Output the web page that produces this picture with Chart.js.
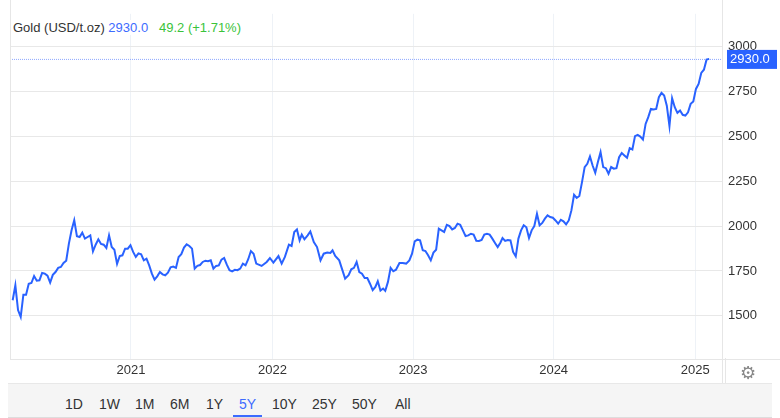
<!DOCTYPE html>
<html><head><meta charset="utf-8">
<script src="https://cdn.jsdelivr.net/npm/chart.js@4/dist/chart.umd.min.js"></script>
<style>
body{margin:0;width:780px;height:418px;background:#fff;font-family:"Liberation Sans",Arial,sans-serif;overflow:hidden;position:relative}
#wrap{position:absolute;left:0;top:0;width:780px;height:383px}
#title{position:absolute;left:13px;top:20px;font-size:13px;color:#333;background:#fff;padding-right:4px}
#bar{position:absolute;left:8px;top:383px;width:764px;height:33px;background:#f5f5f5;border-top:1px solid #e8e8e8;border-bottom:1px solid #ddd}
.b{position:absolute;top:12px;font-size:14px;color:#333}
#gear{position:absolute;left:740px;top:362px;font-size:18px;color:#888;font-family:"DejaVu Sans"}
#sep{position:absolute;left:725px;top:358px;width:1px;height:25px;background:#e6e6e6}
</style></head><body>
<div id="wrap"><canvas id="c" width="780" height="383"></canvas></div>
<div id="title">Gold (USD/t.oz) <span style="color:#3d6bff">2930.0</span>&nbsp;&nbsp;&nbsp;<span style="color:#3ac33a">49.2 (+1.71%)</span></div>
<div id="sep"></div>
<div id="gear">⚙</div>
<div id="bar"></div>
<script>
// weekly prices, segment 1 (weeks 0..91)
const seg1Values=[1587,1670,1532,1494,1618,1618,1679,1683,1722,1696,
1698,1739,1735,1724,1685,1728,1744,1767,1772,1794,
1807,1902,1976,2032,1943,1939,1963,1930,1939,1948,
1859,1896,1926,1900,1896,1878,1948,1883,1868,1789,
1833,1837,1874,1874,1893,1856,1828,1848,1843,1809,
1818,1781,1735,1702,1720,1744,1731,1726,1740,1770,
1774,1767,1828,1843,1880,1898,1889,1874,1763,1778,
1783,1800,1807,1804,1809,1763,1778,1781,1813,1822,
1785,1754,1748,1756,1754,1763,1791,1781,1815,1861,
1846,1791];
// segment 2: explicit week positions
const seg2Weeks=[93.0,94.9,96.1,97.4,99.3,100.5,101.7,103.2,104.2,105.2,106.2,107.2,108.0,109.0,110.2,111.2,112.5,113.7,115.0,116.2,117.5,118.7,119.5,120.5,122.0,123.0,124.2,125.5,126.5,127.5,128.5,129.5,130.5,131.5,132.5,133.5,134.5,135.5,136.4,137.4,138.4,139.2,140.2,141.2,142.2,143.2,144.5,145.7,147.0,148.2,149.2,150.2,151.2,152.2,153.2,154.2,155.2,156.2,157.2,158.2,159.2,160.2,161.2,162.2,163.2,164.2,165.2,166.2,167.2,168.2,169.2,170.2,171.2,172.2,173.2,174.2,175.2,176.2,177.2,178.2,179.2,180.2,181.2,182.2];
const seg2Values=[1778,1800,1822,1796,1833,1791,1828,1896,1889,1967,1981,1920,1952,1926,1948,1970,1911,1883,1809,1846,1852,1850,1865,1833,1809,1763,1707,1726,1759,1767,1800,1744,1735,1711,1711,1679,1643,1661,1693,1641,1652,1639,1689,1767,1748,1757,1794,1794,1791,1809,1846,1915,1924,1920,1865,1861,1837,1809,1852,1868,1985,1976,1967,2007,2000,1981,1989,2013,2007,1976,1944,1948,1957,1952,1918,1917,1922,1952,1957,1952,1930,1906,1883,1907];
// segment 3: weekly from week 183
const seg3Values=[1933,1917,1922,1920,1856,1831,1930,1976,2004,1993,1933,1976,2000,2068,2004,2017,2041,2059,2050,2046,2031,2013,2035,2026,2009,2031,2087,2174,2156,2167,2244,2328,2346,2387,2337,2296,2356,2411,2328,2322,2291,2328,2319,2322,2383,2406,2393,2380,2433,2426,2500,2507,2498,2481,2568,2606,2652,2648,2652,2717,2741,2726,2670,2556,2711,2661,2630,2643,2619,2615,2633,2680,2693,2763,2791,2852,2870,2926,2930];
const yearLabels=['2021','2022','2023','2024','2025'];
const yearWeeks=[44.2,97.1,149.6,202.1,255.0];
const yTicks=[1500,1750,2000,2250,2500,2750,3000];
const lastValue=2930;

const pts=[];
seg1Values.forEach((v,i)=>pts.push({x:i,y:v}));
seg2Values.forEach((v,i)=>pts.push({x:seg2Weeks[i],y:v}));
seg3Values.forEach((v,i)=>pts.push({x:183+i*0.99,y:v}));

const extra={id:'extra',
 beforeDatasetsDraw(ch){const c=ch.ctx,a=ch.chartArea,y=ch.scales.y.getPixelForValue(lastValue);
  c.save();c.strokeStyle='#8fa8ff';c.lineWidth=1;c.setLineDash([1,1]);
  c.beginPath();c.moveTo(a.left,y+0.5);c.lineTo(a.right,y+0.5);c.stroke();c.restore();
  c.save();c.strokeStyle='#e6e6e6';c.beginPath();c.moveTo(a.left+0.5,0);c.lineTo(a.left+0.5,a.bottom);
  c.moveTo(a.right+0.5,0);c.lineTo(a.right+0.5,383);c.moveTo(a.left,a.bottom+0.5);c.lineTo(780,a.bottom+0.5);c.stroke();c.restore();},
 afterDraw(ch){const c=ch.ctx,a=ch.chartArea,y=ch.scales.y.getPixelForValue(lastValue);
  c.save();c.fillStyle='#2962ff';c.fillRect(a.right+5,y-9,50,19);
  c.fillStyle='#fff';c.font='13px "Liberation Sans",Arial';c.textBaseline='middle';c.fillText(lastValue.toFixed(1),a.right+8,y+1);c.restore();}
};

new Chart(document.getElementById('c'),{type:'line',
 data:{datasets:[{data:pts,borderColor:'#2962ff',borderWidth:2,pointRadius:0,tension:0,fill:false}]},
 options:{responsive:false,animation:false,events:[],
  layout:{padding:{left:10,top:0,right:0,bottom:0}},
  plugins:{legend:{display:false},tooltip:{enabled:false}},
  scales:{
   x:{type:'linear',min:-1,max:265,
    afterBuildTicks(s){s.ticks=yearWeeks.map(v=>({value:v}));},
    afterFit(s){s.height=24;},
    ticks:{autoSkip:false,maxRotation:0,color:'#333',font:{size:13,family:'"Liberation Sans",Arial'},padding:4,
     callback:(v,i)=>yearLabels[i]},
    grid:{color:'#eef2f7',drawTicks:false},border:{display:false}},
   y:{position:'right',min:1260,max:3181,
    afterBuildTicks(s){s.ticks=yTicks.map(v=>({value:v}));},
    afterFit(s){s.width=58;},
    ticks:{color:'#333',font:{size:13,family:'"Liberation Sans",Arial'},padding:6,callback:v=>String(v)},
    grid:{color:'#e8e8e8',drawTicks:false},border:{display:false}}
  }},
 plugins:[extra]});

const btns=['1D','1W','1M','6M','1Y','5Y','10Y','25Y','50Y','All'];
const bx=[65,99,135,170,206,239,272,312,352,395];
const bar=document.getElementById('bar');
btns.forEach((t,i)=>{const d=document.createElement('div');d.className='b';d.textContent=t;d.style.left=(bx[i]-8)+'px';
 if(t==='5Y'){d.style.color='#3d6bff';d.style.borderBottom='2px solid #3d6bff';d.style.padding='0 6px 3px';d.style.marginLeft='-6px';}
 bar.appendChild(d);});
</script></body></html>
